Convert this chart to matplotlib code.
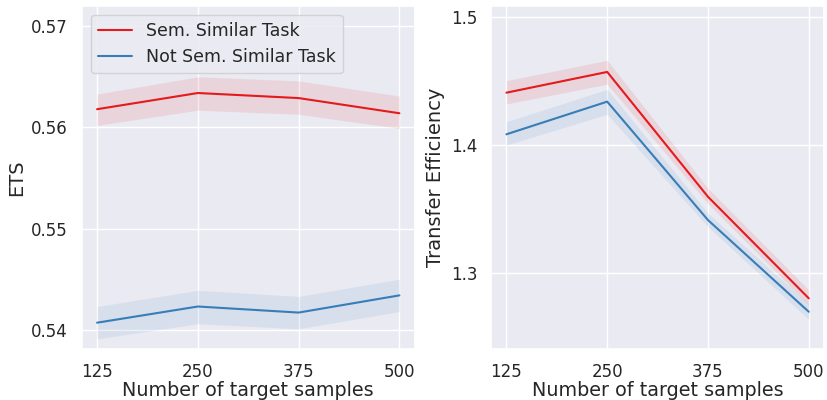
import numpy as np
import matplotlib
matplotlib.use("Agg")
import matplotlib.pyplot as plt
import seaborn as sns

samples = [125, 250, 375, 500]

# ETS (left panel)
ets_sim = [0.5618, 0.5634, 0.5629, 0.5614]
ets_sim_lo = [0.5602, 0.5617, 0.5613, 0.5599]
ets_sim_hi = [0.5633, 0.5650, 0.5646, 0.5631]
ets_not = [0.5407, 0.5423, 0.5417, 0.5434]
ets_not_lo = [0.5391, 0.5406, 0.5401, 0.5418]
ets_not_hi = [0.5423, 0.5439, 0.5433, 0.5450]

# Transfer efficiency (right panel)
te_sim = [1.4411, 1.4573, 1.3598, 1.2805]
te_sim_lo = [1.4323, 1.4477, 1.3544, 1.2752]
te_sim_hi = [1.4505, 1.4664, 1.3664, 1.2870]
te_not = [1.4086, 1.4341, 1.3416, 1.2700]
te_not_lo = [1.4002, 1.4242, 1.3364, 1.2640]
te_not_hi = [1.4184, 1.4437, 1.3470, 1.2760]

labels = ["Sem. Similar Task", "Not Sem. Similar Task"]
red = "#e41a1c"
blue = "#377eb8"

sns.set_theme(style="darkgrid")
plt.rcParams["font.family"] = ["DejaVu Sans"]

fig, (ax1, ax2) = plt.subplots(1, 2, figsize=(8.28, 4), dpi=100)
fig.subplots_adjust(left=0.099, right=0.995, bottom=0.1275, top=0.985, wspace=0.231)

ax1.plot(samples, ets_sim, color=red, lw=1.5, label=labels[0])
ax1.fill_between(samples, ets_sim_lo, ets_sim_hi, color=red, alpha=0.1, lw=0)
ax1.plot(samples, ets_not, color=blue, lw=1.5, label=labels[1])
ax1.fill_between(samples, ets_not_lo, ets_not_hi, color=blue, alpha=0.1, lw=0)
ax1.set_ylim(0.5381, 0.5720)
ax1.set_yticks([0.54, 0.55, 0.56, 0.57])
ax1.set_ylabel("ETS", fontsize=14)
ax1.legend(loc="upper left", fontsize=12.5, borderaxespad=0.5)

ax2.plot(samples, te_sim, color=red, lw=1.5)
ax2.fill_between(samples, te_sim_lo, te_sim_hi, color=red, alpha=0.1, lw=0)
ax2.plot(samples, te_not, color=blue, lw=1.5)
ax2.fill_between(samples, te_not_lo, te_not_hi, color=blue, alpha=0.1, lw=0)
ax2.set_ylim(1.2409, 1.5088)
ax2.set_yticks([1.3, 1.4, 1.5])
ax2.set_ylabel("Transfer Efficiency", fontsize=14)

for ax in (ax1, ax2):
    ax.set_xticks(samples)
    ax.set_xlim(106.25, 518.75)
    ax.set_xlabel("Number of target samples", fontsize=13.8, labelpad=0)
    ax.tick_params(labelsize=12, pad=4)

fig.savefig("out.png", dpi=100)
